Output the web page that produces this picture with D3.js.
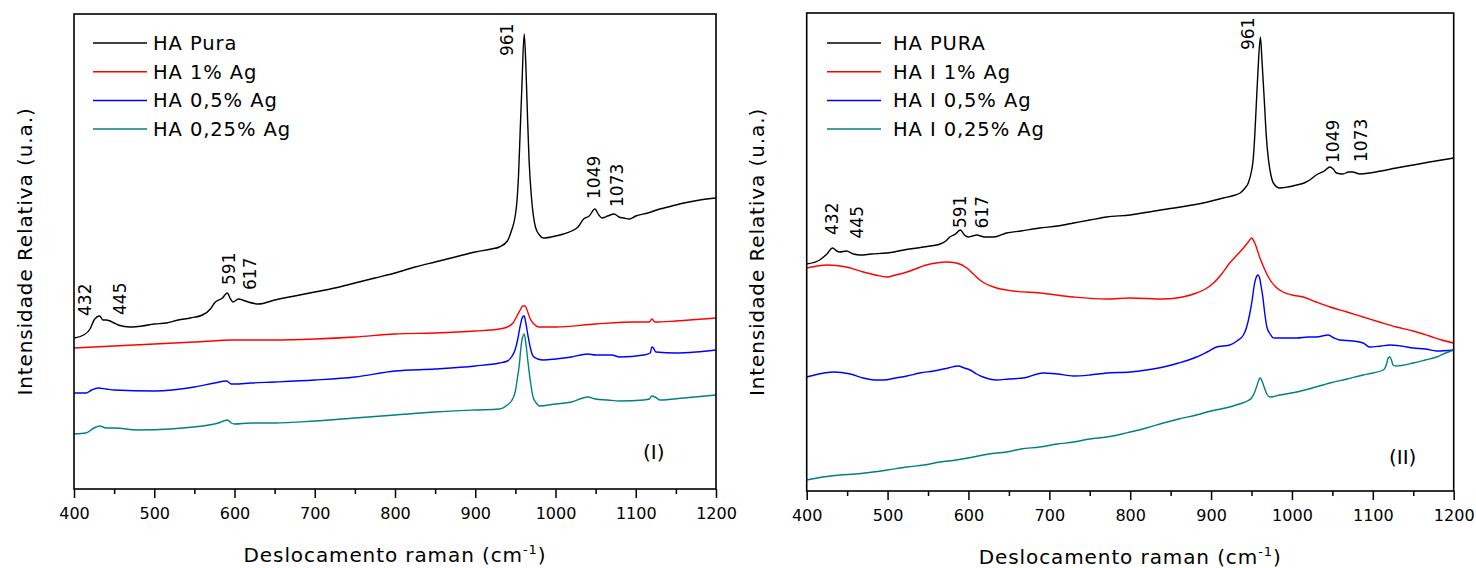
<!DOCTYPE html>
<html>
<head>
<meta charset="utf-8">
<script src="https://cdn.jsdelivr.net/npm/d3@7/dist/d3.min.js"></script>
<style>
  body { margin: 0; background: #fff; }
  text { font-family: "DejaVu Sans", Verdana, sans-serif; fill: #000; }
</style>
</head>
<body>
<script>
// Raman spectra, [wavenumber (cm-1), relative intensity (a.u.)]

// panel (I)
const pureI = [[400,151],[412,154],[420,160],[425,169],[432,173],[436,169],[440,169],[445,168],[450,166],[455,164],[470,162],[485,163],[500,165],[515,166],[530,169],[545,171],[560,174],[570,180],[575,186],[585,191],[591,196],[595,190],[598,187],[605,190],[610,189],[617,187],[630,185],[650,189],[675,193],[700,197],[725,201],[750,206],[775,211],[800,216],[825,222],[850,227],[875,232],[900,237],[920,240],[930,242],[940,248],[945,258],[950,274],[952,288],[954,315],[956,358],[958,400],[961,455],[963,425],[965,375],[967,330],[970,292],[972,276],[975,262],[980,254],[985,251],[1000,253],[1010,255],[1020,258],[1028,262],[1035,270],[1042,273],[1049,280],[1054,274],[1058,271],[1065,273],[1073,275],[1079,272],[1085,271],[1092,270],[1100,273],[1115,276],[1130,280],[1145,283],[1160,286],[1180,289],[1200,291]];
const ag1I = [[400,141],[450,143],[500,145],[550,147],[600,149],[650,149],[700,150],[750,152],[800,155],[850,156],[900,158],[930,160],[940,162],[947,166],[952,173],[956,179],[959,183],[962,183],[965,178],[968,171],[972,166],[980,162],[1000,162],[1050,165],[1100,167],[1117,167],[1120,170],[1124,167],[1150,168],[1200,171]];
const ag05I = [[400,96],[415,96],[422,99],[430,101],[440,100],[450,99],[500,98],[550,102],[575,106],[590,108],[596,105],[600,105],[620,106],[650,107],[700,109],[750,112],[800,118],[850,120],[900,123],[930,126],[940,128],[946,133],[950,140],[953,150],[956,163],[959,172],[961,173],[963,166],[966,152],[969,140],[972,133],[978,130],[985,129],[1000,130],[1020,132],[1040,135],[1050,134],[1070,134],[1080,132],[1110,134],[1118,136],[1120,142],[1122,141],[1125,137],[1150,136],[1175,137],[1200,139]];
const ag025I = [[400,55],[415,56],[425,61],[432,63],[440,61],[450,61],[480,59],[520,60],[560,63],[575,65],[580,66],[591,69],[596,66],[600,65],[620,66],[650,66],[700,68],[750,71],[800,74],[850,77],[900,79],[930,80],[940,84],[945,88],[950,98],[952,108],[955,125],[957,142],[959,152],[961,155],[963,146],[966,125],[969,106],[972,92],[976,86],[980,83],[1000,85],[1020,87],[1040,92],[1050,90],[1065,89],[1080,88],[1110,89],[1117,90],[1120,93],[1124,92],[1130,89],[1160,91],[1200,94]];
const namesI = ["HA Pura", "HA 1% Ag", "HA 0,5% Ag", "HA 0,25% Ag"];

// panel (II)
const pureII = [[400,227],[416,231],[425,237],[432,243],[437,240],[441,239],[449,240],[458,237],[466,236],[480,237],[499,238],[520,241],[544,244],[565,247],[572,250],[577,254],[584,257],[590,261],[595,256],[600,254],[605,255],[610,256],[620,254],[631,254],[647,258],[665,260],[688,263],[710,265],[730,268],[750,271],[771,274],[800,276],[830,280],[862,284],[890,288],[915,293],[930,296],[936,298],[942,303],[946,308],[950,320],[952,331],[954,355],[956,388],[958,420],[961,454],[963,430],[966,388],[968,358],[971,331],[974,316],[977,308],[985,303],[995,304],[1006,306],[1015,308],[1022,311],[1030,316],[1040,320],[1047,324],[1051,322],[1055,318],[1063,317],[1070,319],[1075,319],[1084,317],[1096,318],[1110,320],[1129,323],[1150,326],[1170,329],[1185,331],[1200,333]];
const ag1II = [[400,223],[425,226],[449,224],[470,219],[485,216],[499,214],[510,216],[524,219],[548,226],[560,228],[573,229],[585,228],[598,223],[606,217],[614,211],[622,207],[631,204],[655,200],[688,198],[730,194],[771,192],[800,193],[841,192],[865,194],[882,198],[893,202],[903,208],[913,217],[923,228],[932,236],[940,243],[946,249],[950,253],[954,248],[960,234],[966,222],[973,211],[980,204],[989,199],[1000,196],[1014,194],[1030,189],[1047,184],[1068,179],[1088,174],[1108,169],[1129,164],[1150,160],[1170,155],[1185,151],[1200,148]];
const ag05II = [[400,114],[415,117],[433,119],[454,117],[470,113],[483,111],[495,111],[510,113],[524,115],[540,118],[557,120],[575,123],[587,125],[595,123],[602,121],[610,117],[618,114],[635,111],[650,112],[668,113],[692,118],[710,117],[730,115],[750,116],[771,118],[800,119],[820,121],[841,124],[860,128],[882,134],[895,139],[907,144],[915,145],[923,146],[932,150],[940,156],[944,164],[948,178],[951,192],[953,204],[956,214],[958,216],[960,213],[962,204],[964,194],[966,180],[969,164],[973,157],[978,153],[990,153],[1006,153],[1020,154],[1030,154],[1045,156],[1052,153],[1059,151],[1075,150],[1088,148],[1096,144],[1110,145],[1121,146],[1135,145],[1150,143],[1165,142],[1179,140],[1200,141]];
const ag025II = [[400,11],[420,14],[441,16],[460,17],[482,19],[500,21],[524,24],[545,26],[565,29],[585,31],[606,34],[625,37],[647,39],[665,42],[688,44],[710,47],[730,49],[750,52],[771,54],[790,57],[800,59],[820,63],[841,68],[860,72],[882,76],[900,80],[923,84],[935,87],[945,90],[950,93],[954,99],[957,106],[959,111],[961,113],[963,110],[966,103],[969,97],[973,94],[985,96],[1006,99],[1025,103],[1047,108],[1068,112],[1088,116],[1100,118],[1113,121],[1117,127],[1119,133],[1121,134],[1123,131],[1125,126],[1128,125],[1150,128],[1165,131],[1179,134],[1190,138],[1200,141]];
const namesII = ["HA PURA", "HA I 1% Ag", "HA I 0,5% Ag", "HA I 0,25% Ag"];

// peaks marked on the pure HA spectrum
const peaks = [432, 445, 591, 617, 961, 1049, 1073];

const xTicks = [400, 500, 600, 700, 800, 900, 1000, 1100, 1200];
const xMinor = [450, 550, 650, 750, 850, 950, 1050, 1150];
const colors = ["#000000", "#ff0000", "#0000ff", "#008080"];

// where each peak label sits relative to the curve (px)
const labelShiftI = [[-15, 0], [10, -6], [2, -8], [2, -12], [-17, 22], [-1, -10], [3, -7]];
const labelShiftII = [[-1, -13], [14, -13], [-1, -3], [0, -8], [-12, 13], [1, -5], [10, -10]];

const width = 1476, height = 568;

const svg = d3.select("body").append("svg")
    .attr("width", width)
    .attr("height", height);

const panels = [
  { box: { l: 74, r: 716, t: 14, b: 489 }, series: [pureI, ag1I, ag05I, ag025I], names: namesI,
    shifts: labelShiftI, tag: "(I)", tagPos: [643, 459], legendX: 93, textX: 153, titleX: 32 },
  { box: { l: 806.7, r: 1453.7, t: 13, b: 491 }, series: [pureII, ag1II, ag05II, ag025II], names: namesII,
    shifts: labelShiftII, tag: "(II)", tagPos: [1389, 464], legendX: 827, textX: 893, titleX: 764 }
];

// linear lookup of a spectrum at a wavenumber (for label placement)
function valueAt(s, v) {
  for (let i = 1; i < s.length; i++) {
    if (s[i][0] >= v) {
      const a = s[i - 1], b = s[i];
      return a[1] + (b[1] - a[1]) * (v - a[0]) / (b[0] - a[0]);
    }
  }
  return s[s.length - 1][1];
}

panels.forEach(p => {
  const { l, r, t, b } = p.box;
  const x = d3.scaleLinear().domain([400, 1200]).range([l, r]);
  const y = d3.scaleLinear().domain([0, b - t]).range([b, t]);

  const g = svg.append("g");

  const line = d3.line()
      .x(d => x(d[0]))
      .y(d => y(d[1]))
      .curve(d3.curveMonotoneX);

  g.selectAll("path.spec")
    .data(p.series)
    .enter().append("path")
      .attr("class", "spec")
      .attr("d", line)
      .attr("fill", "none")
      .attr("stroke", (d, i) => colors[i])
      .attr("stroke-width", 1.4)
      .attr("stroke-linejoin", "round");

  // frame
  g.append("rect")
      .attr("x", l).attr("y", t)
      .attr("width", r - l).attr("height", b - t)
      .attr("fill", "none")
      .attr("stroke", "#000")
      .attr("stroke-width", 1.6);

  // bottom axis: major + minor ticks
  const axis = g.append("g")
      .attr("transform", `translate(0,${b})`)
      .call(d3.axisBottom(x).tickValues(xTicks).tickSize(9).tickPadding(10).tickFormat(d3.format("d")));
  axis.select(".domain").remove();
  axis.selectAll("line").attr("stroke-width", 1.5);
  axis.selectAll("text").style("font-size", "16px").attr("font-family", null);

  const minor = g.append("g")
      .attr("transform", `translate(0,${b})`)
      .call(d3.axisBottom(x).tickValues(xMinor).tickSize(5).tickFormat(""));
  minor.select(".domain").remove();
  minor.selectAll("line").attr("stroke-width", 1.5);

  // axis titles
  const xt = g.append("text")
      .attr("x", (l + r) / 2)
      .attr("y", b + 73)
      .attr("text-anchor", "middle")
      .style("font-size", "20px")
      .style("letter-spacing", "0.9px");
  xt.append("tspan").text("Deslocamento raman (cm");
  xt.append("tspan").text("-1").attr("dy", "-8").style("font-size", "13px");
  xt.append("tspan").text(")").attr("dy", "8");

  g.append("text")
      .attr("transform", `translate(${p.titleX},${(t + b) / 2}) rotate(-90)`)
      .attr("text-anchor", "middle")
      .style("font-size", "20px")
      .style("letter-spacing", "0.9px")
      .text("Intensidade Relativa (u.a.)");

  // legend
  p.names.forEach((n, i) => {
    const ly = 43 + i * 28.7;
    g.append("line")
        .attr("x1", p.legendX).attr("x2", p.legendX + 54)
        .attr("y1", ly).attr("y2", ly)
        .attr("stroke", colors[i]).attr("stroke-width", 1.5);
    g.append("text")
        .attr("x", p.textX).attr("y", ly + 6.8)
        .style("font-size", "19.5px")
        .style("letter-spacing", "0.9px")
        .text(n);
  });

  // peak labels on pure spectrum
  peaks.forEach((v, i) => {
    const [dx, dy] = p.shifts[i];
    const px = x(v) + dx;
    const py = y(valueAt(p.series[0], v)) + dy;
    g.append("text")
        .attr("transform", `translate(${px},${py}) rotate(-90)`)
        .attr("dy", "0.35em")
        .style("font-size", "17px")
        .text(v);
  });

  g.append("text")
      .attr("x", p.tagPos[0]).attr("y", p.tagPos[1])
      .style("font-size", "20px")
      .text(p.tag);
});
</script>
</body>
</html>
